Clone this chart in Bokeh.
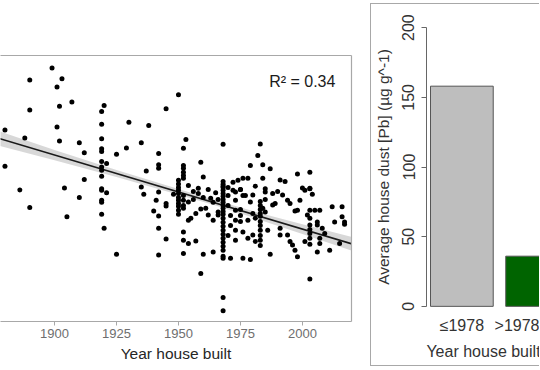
from bokeh.plotting import figure
from bokeh.layouts import row
from bokeh.models import LinearAxis, FixedTicker, Label
from bokeh.embed import file_html
from bokeh.resources import INLINE

# ---------------- data: scatter (year built vs log dust Pb) ----------------
years = [
    1899, 1890, 1903, 1901, 1907, 1902, 1890, 1920, 1919, 1919, 1880, 1901, 1888, 1902, 1910,
    1919, 1912, 1919, 1919, 1925, 1919, 1921, 1919, 1919, 1919, 1880, 1912, 1904, 1886, 1919,
    1890, 1910, 1905, 1919, 1921, 1919, 1919, 1919, 1920, 1925,
    1950, 1945, 1930, 1938, 1929, 1935, 1953, 1952, 1968, 1942, 1959, 1942, 1942, 1937, 1952,
    1952, 1952, 1952, 1952, 1960, 1950, 1950, 1954, 1935, 1968, 1968, 1972, 1974, 1958,
    1983, 1982, 1979, 1984, 1987, 1976, 1978, 1984, 1991, 1993, 1998, 2003, 1985, 2000, 2003,
    1936, 1942, 1941, 1945, 1945, 1940, 1942, 1942, 1945, 1942, 1948,
    1950, 1950, 1950, 1950, 1950, 1950, 1950,
    1952, 1952, 1952, 1952,
    1954, 1955, 1954, 1952, 1952, 1954, 1952, 1957, 1957, 1959, 1961, 1956, 1958, 1962, 1964,
    1960, 1964, 1959, 1963, 1964, 1966, 1966,
    1968, 1968, 1968, 1968, 1968, 1968, 1968, 1968, 1968, 1968, 1968, 1968, 1968, 1968, 1968,
    1968, 1968, 1968, 1968, 1968, 1971, 1968, 1968,
    1970, 1970, 1971, 1971, 1970, 1973, 1973, 1973, 1973, 1973, 1972, 1973,
    1980, 1979, 1985, 1983, 1983, 1983, 1983, 1983, 1984, 1985, 1988, 1989, 1992, 1994, 1995,
    1999, 1997, 1998, 2001, 2003, 2004, 2003, 2005, 2007, 2002, 2003, 2006, 2006, 2012, 2016,
    2013, 2017, 2017, 2016, 1975, 1975, 1975, 1978, 1980, 1981, 1976, 1978, 1980, 1981,
    1983, 1983, 1983, 1983, 1983, 1983, 1986, 1987, 1976, 1979, 1991, 1991, 1994, 1995, 1996,
    1997, 1998, 2001, 2003, 2003, 2003, 2003, 2003, 2007, 2007, 2006, 2011, 2008, 2009, 2015,
    2003,
    1950, 1950, 1968, 1968, 1962, 1965, 1960, 1966, 1956, 1970, 1975, 1977, 1981, 1988, 1990,
    1985, 1975, 1976,
]
pb_log = [
    6.34, 6.04, 6.07, 5.86, 5.49, 5.38, 5.29, 5.40, 5.25, 4.93, 4.79, 4.86, 4.59, 4.51, 4.47,
    4.57, 4.22, 4.32, 4.25, 4.18, 4.00, 3.95, 3.86, 3.78, 3.63, 3.88, 3.55, 3.34, 3.29, 3.32,
    2.85, 3.10, 2.62, 3.28, 3.22, 3.03, 2.98, 2.68, 2.33, 1.68,
    5.67, 5.32, 4.98, 4.90, 4.34, 4.47, 4.55, 4.33, 4.43, 4.20, 3.98, 3.92, 3.83, 3.76, 3.90,
    3.83, 3.73, 3.65, 3.58, 3.61, 3.53, 3.44, 3.40, 3.36, 3.50, 3.38, 3.48, 3.53, 3.33,
    4.44, 4.15, 3.90, 3.92, 3.82, 3.58, 3.58, 3.58, 3.54, 3.50, 3.69, 3.73, 3.32, 3.34, 3.32,
    3.18, 3.24, 3.03, 2.95, 2.89, 2.76, 2.64, 2.33, 2.06, 1.66, 3.18,
    3.20, 3.10, 3.03, 2.95, 2.88, 2.78, 2.68,
    3.15, 3.03, 2.90, 2.83,
    2.99, 2.58, 2.53, 2.24, 2.03, 1.95, 1.70, 2.01, 2.70, 2.81, 2.83, 3.25, 3.20, 2.66, 2.53,
    1.68, 1.74, 1.20, 3.08, 2.98, 2.74, 2.66,
    3.28, 3.20, 3.13, 3.05, 2.98, 2.90, 2.83, 2.75, 2.68, 2.58, 2.48, 2.38, 2.28, 2.18, 2.08,
    1.98, 1.88, 1.78, 1.63, 1.58, 1.58, 0.60, 0.27,
    3.15, 2.90, 2.65, 2.40, 2.15, 3.03, 2.78, 2.53, 2.28, 2.03, 3.28, 3.24,
    3.16, 2.99, 3.24, 3.00, 2.90, 2.80, 2.70, 2.63, 2.83, 2.74, 2.91, 2.95, 3.16, 3.03, 2.95,
    3.03, 2.76, 2.78, 3.28, 3.33, 3.18, 2.78, 2.78, 2.78, 2.66, 2.58, 2.49, 2.41, 2.87, 2.87,
    2.49, 2.49, 2.43, 2.62, 2.80, 2.65, 2.50, 2.53, 2.70, 2.58, 2.24, 2.08, 2.16, 2.00,
    2.50, 2.40, 2.28, 2.15, 2.03, 1.90, 2.28, 1.68, 1.58, 1.55, 2.33, 2.16, 2.16, 2.00, 1.91,
    1.78, 1.62, 2.00, 2.41, 2.30, 2.20, 2.08, 1.93, 2.08, 1.95, 1.74, 1.78, 2.33, 2.20, 1.95,
    1.06,
    3.35, 3.28, 3.43, 3.35, 3.30, 3.22, 3.10, 3.05, 3.05, 3.35, 3.30, 3.15, 3.38, 3.20, 3.25,
    3.05, 3.30, 3.15,
]

# regression line and its confidence band
fit_years = [1878, 2020]
fit_vals = [4.57, 1.94]
band_years = [1878, 1900, 1925, 1950, 1965, 1980, 2000, 2020]
band_lower = [4.39, 4.03, 3.61, 3.17, 2.90, 2.60, 2.19, 1.77]
band_upper = [4.75, 4.29, 3.79, 3.31, 3.03, 2.76, 2.43, 2.11]
x_ticks = [1875, 1900, 1925, 1950, 1975, 2000]
r2_text = "R\u00b2 = 0.34"

# ---------------- data: bar chart ----------------
bar_groups = ["\u22641978", ">1978"]
bar_pos = [0.7, 1.9]
bar_means = [158, 36]
bar_colors = ["#bebebe", "#006400"]
bar_y_ticks = [0, 50, 100, 150, 200]

FONT = "Liberation Sans"
BOX = "#a8a8a8"

# ---------------- left panel ----------------
p1 = figure(width=370, height=370, x_range=(1878.2, 2019.8), y_range=(0, 6.65),
            output_backend="svg", toolbar_location=None, y_axis_location=None,
            min_border_left=0, min_border_right=19, min_border_top=55, min_border_bottom=49)
p1.outline_line_color = None
p1.grid.visible = False

xa = p1.xaxis[0]
xa.ticker = FixedTicker(ticks=x_ticks)
xa.minor_tick_line_color = None
xa.major_tick_in = 0
xa.major_tick_out = 4
xa.axis_line_color = BOX
xa.axis_line_width = 1.2
xa.major_tick_line_color = BOX
xa.major_label_text_color = "#6e6e6e"
xa.major_label_text_font = FONT
xa.major_label_text_font_size = "13px"
xa.major_label_standoff = 3
xa.axis_label = "Year house built"
xa.axis_label_text_font = FONT
xa.axis_label_text_font_style = "normal"
xa.axis_label_text_font_size = "15.5px"
xa.axis_label_text_color = "#262626"
xa.axis_label_standoff = 4

for loc in ("above", "right"):
    ax = LinearAxis(ticker=FixedTicker(ticks=[]), axis_line_color=BOX, axis_line_width=1.2,
                    major_tick_line_color=None, minor_tick_line_color=None,
                    major_label_text_font_size="0px", major_label_standoff=0)
    p1.add_layout(ax, loc)

p1.varea(x=band_years, y1=band_lower, y2=band_upper, fill_color="#d4d4d4", fill_alpha=0.9)
p1.line(fit_years, fit_vals, line_color="#1a1a1a", line_width=1.6)
p1.scatter(years, pb_log, size=5, fill_color="black", line_color=None)
p1.add_layout(Label(x=2013.3, y=6.0, text=r2_text, text_align="right", text_baseline="middle",
                    text_font=FONT, text_font_size="16px", text_color="#1a1a1a"))

# ---------------- right panel ----------------
p2 = figure(width=169, height=363, x_range=(0.136, 1.954), y_range=(-8, 208),
            output_backend="svg", toolbar_location=None,
            min_border_left=52, min_border_right=0, min_border_top=12, min_border_bottom=50)
p2.outline_line_color = None
p2.grid.visible = False
p2.margin = (3, 0, 0, 0)
p2.styles = {"border-left": "1px solid " + BOX, "border-top": "1px solid " + BOX,
             "border-bottom": "1px solid " + BOX}

# keep each panel's frame independent (no cross-plot frame alignment)
for fig in (p1, p2):
    try:
        fig.frame_align = False
    except AttributeError:
        pass

p2.vbar(x=bar_pos, width=1.0, top=bar_means, bottom=0, fill_color=bar_colors,
        line_color="#555555", line_width=1)

ya = p2.yaxis[0]
ya.ticker = FixedTicker(ticks=bar_y_ticks)
ya.bounds = (0, 200)
ya.minor_tick_line_color = None
ya.major_tick_in = 0
ya.major_tick_out = 5
ya.axis_line_color = "#666666"
ya.major_tick_line_color = "#666666"
ya.major_label_orientation = "vertical"
ya.major_label_text_font = FONT
ya.major_label_text_font_size = "16px"
ya.major_label_text_color = "#333333"
ya.major_label_text_line_height = 0.9
ya.major_label_standoff = 7
ya.axis_label = "Average house dust [Pb] (\u00b5g g^-1)"
ya.axis_label_text_font = FONT
ya.axis_label_text_font_style = "normal"
ya.axis_label_text_font_size = "15.5px"
ya.axis_label_text_color = "#333333"
ya.axis_label_text_line_height = 0.9
ya.axis_label_standoff = 8

xb = p2.xaxis[0]
xb.ticker = FixedTicker(ticks=bar_pos)
xb.major_label_overrides = {bar_pos[0]: bar_groups[0], bar_pos[1]: bar_groups[1]}
xb.axis_line_color = None
xb.major_tick_line_color = None
xb.minor_tick_line_color = None
xb.major_label_text_font = FONT
xb.major_label_text_font_size = "16px"
xb.major_label_text_color = "#333333"
xb.major_label_standoff = -7
xb.axis_label = "Year house built"
xb.axis_label_text_font = FONT
xb.axis_label_text_font_style = "normal"
xb.axis_label_text_font_size = "16px"
xb.axis_label_text_color = "#333333"
xb.axis_label_standoff = 6

layout = row(p1, p2)
open("out.html", "w").write(file_html(layout, INLINE))
